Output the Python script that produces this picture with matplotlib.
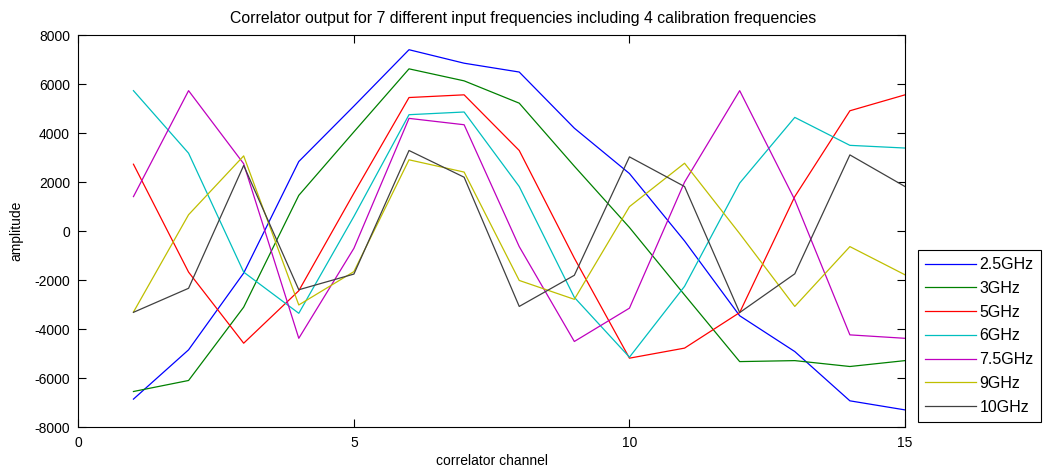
import numpy as np
import matplotlib.pyplot as plt

plt.rcParams['font.family'] = ['Liberation Sans', 'DejaVu Sans']
plt.rcParams['font.size'] = 10
plt.rcParams['axes.unicode_minus'] = False

channels = list(range(1, 16))

labels = ["2.5GHz", "3GHz", "5GHz", "6GHz", "7.5GHz", "9GHz", "10GHz"]
colors = [(0, 0, 1), (0, 0.5, 0), (1, 0, 0), (0, 0.75, 0.75),
          (0.75, 0, 0.75), (0.75, 0.75, 0), (0.25, 0.25, 0.25)]

f25 = [-6850, -4840, -1710, 2840, 5100, 7400, 6850, 6490, 4200, 2350, -400, -3450, -4910, -6920, -7290]
f3 = [-6540, -6090, -3100, 1460, 4050, 6620, 6130, 5220, 2650, 150, -2600, -5320, -5280, -5520, -5280]
f5 = [2730, -1670, -4570, -2430, 1550, 5450, 5560, 3290, -1100, -5180, -4770, -3320, 1410, 4910, 5560]
f6 = [5730, 3180, -1670, -3350, 600, 4750, 4860, 1820, -2700, -5140, -2250, 1960, 4640, 3500, 3390]
f75 = [1410, 5730, 2750, -4370, -700, 4600, 4340, -630, -4500, -3140, 2000, 5730, 1280, -4230, -4370]
f9 = [-3300, 670, 3070, -3010, -1650, 2910, 2410, -2010, -2780, 1000, 2770, -100, -3070, -630, -1780]
f10 = [-3310, -2330, 2680, -2390, -1750, 3290, 2200, -3070, -1800, 3030, 1820, -3320, -1740, 3110, 1820]

series = [f25, f3, f5, f6, f75, f9, f10]

fig = plt.figure(figsize=(10.46, 4.75), dpi=100)
ax = fig.add_axes([0.0749, 0.1004, 0.7903, 0.8259])

for vals, lab, col in zip(series, labels, colors):
    ax.plot(channels, vals, color=col, lw=0.9, label=lab)

ax.set_xlim(0, 15)
ax.set_ylim(-8000, 8000)
ax.set_xticks([0, 5, 10, 15])
ax.set_yticks(np.arange(-8000, 8001, 2000))
ax.tick_params(direction='in', top=True, right=True, length=6, width=0.8, pad=6)
for s in ax.spines.values():
    s.set_linewidth(0.8)

# title is centred on the whole figure, not the axes
fig.text(0.5, 1 - 18 / 475, "Correlator output for 7 different input frequencies including 4 calibration frequencies",
         ha='center', va='center', fontsize=11.4)
ax.set_xlabel("correlator channel", labelpad=3)
ax.set_ylabel("amplitude", labelpad=8)

# legend sits outside the axes, lower right
leg = fig.legend(loc='lower left', bbox_to_anchor=(0.8776, 0.1116), fancybox=False,
                 edgecolor='black', framealpha=1, handlelength=3.2, handletextpad=0.2,
                 labelspacing=0.55, borderpad=0.45, borderaxespad=0, fontsize=11.5)
leg.get_frame().set_linewidth(0.8)

fig.savefig("out.png", dpi=100)
